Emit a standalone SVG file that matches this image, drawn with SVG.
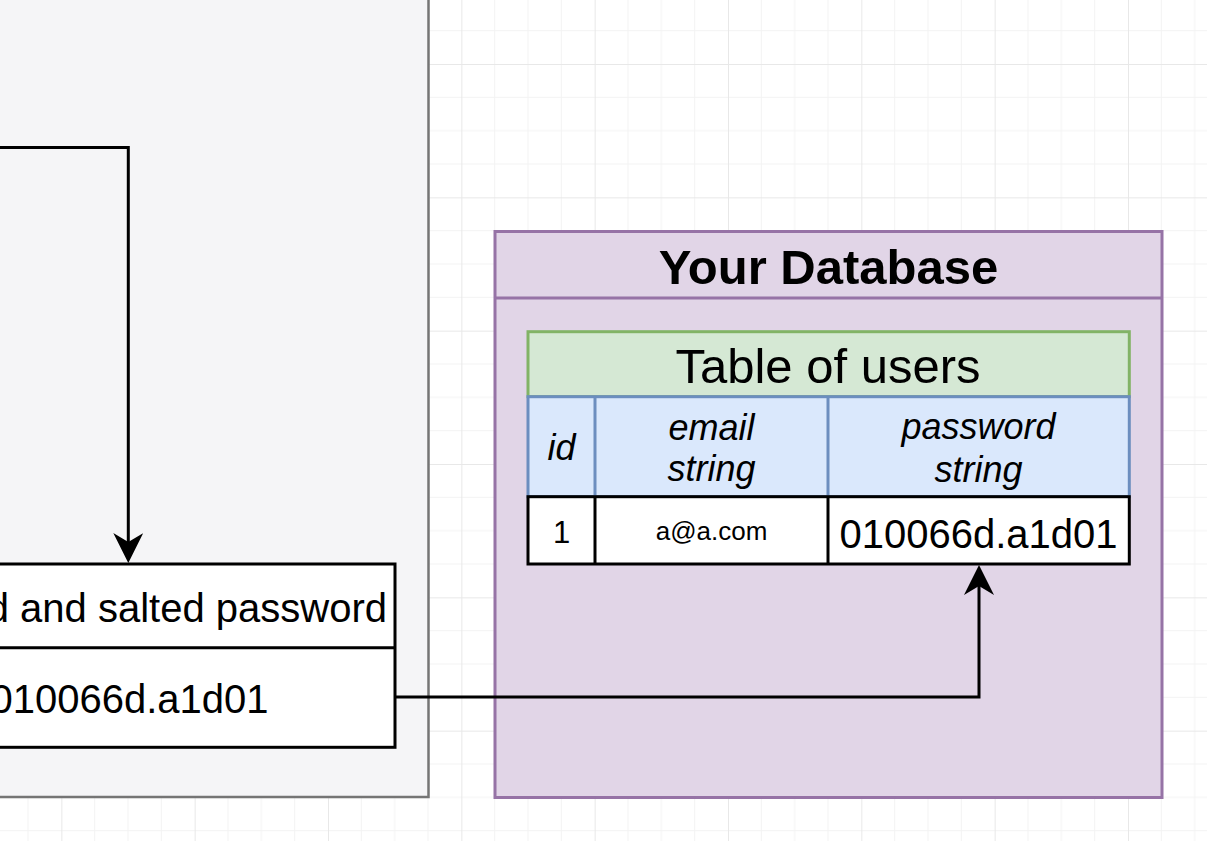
<svg xmlns="http://www.w3.org/2000/svg" width="1207" height="841" viewBox="0 0 1207 841">
  <defs>
    <pattern id="grid" patternUnits="userSpaceOnUse" x="61.333" y="64" width="133.333" height="133.333">
      <path d="M33.333,0V133.333M66.667,0V133.333M100,0V133.333M0,33.333H133.333M0,66.667H133.333M0,100H133.333" fill="none" stroke="#f3f3f3" stroke-width="1"/>
      <path d="M0.5,0V133.333M0,0.5H133.333" fill="none" stroke="#e8e8e8" stroke-width="1"/>
    </pattern>
    <marker id="arrow" viewBox="0 0 30 30" refX="9" refY="15" markerWidth="30" markerHeight="30" markerUnits="userSpaceOnUse" orient="auto">
      <path d="M0,0 L30,15 L0,30 L9,15 Z" fill="#000"/>
    </marker>
    <style>
      text { font-family: "Liberation Sans", Arial, Helvetica, sans-serif; fill: #000; }
      .mid { text-anchor: middle; }
      .blk { fill: #fff; stroke: #000; stroke-width: 3; }
      .conn { fill: none; stroke: #000; stroke-width: 3; marker-end: url(#arrow); }
      .hdr { font-size: 36px; font-style: italic; text-anchor: middle; }
      .cell { fill: #fff; stroke: #000; stroke-width: 3; }
    </style>
  </defs>

  <rect width="1207" height="841" fill="#ffffff"/>
  <rect width="1207" height="841" fill="url(#grid)"/>

  <g id="server-panel">
    <rect x="-10" y="-10" width="438.5" height="807" fill="#f5f5f7" stroke="#757575" stroke-width="2.5"/>
  </g>

  <g id="hashed-password-box">
    <rect class="blk" x="-17" y="564" width="412" height="183.3"/>
    <line x1="-17" y1="647.7" x2="395" y2="647.7" stroke="#000" stroke-width="3"/>
    <text x="387" y="622" font-size="40" text-anchor="end">d and salted password</text>
    <text x="268.6" y="712.5" font-size="40" text-anchor="end">010066d.a1d01</text>
  </g>

  <g id="your-database">
    <rect x="495" y="231.5" width="667" height="566" fill="#e1d5e7" stroke="#9673a6" stroke-width="3"/>
    <line x1="495" y1="298" x2="1162" y2="298" stroke="#9673a6" stroke-width="3"/>
    <text class="mid" x="828.5" y="283.5" font-size="49" font-weight="bold">Your Database</text>
  </g>

  <g id="table-of-users">
    <rect x="528" y="331.7" width="601.3" height="65" fill="#d5e8d4" stroke="#82b366" stroke-width="3"/>
    <text class="mid" x="828" y="383.3" font-size="49">Table of users</text>
    <rect x="528" y="396.7" width="601.3" height="100" fill="#dae8fc" stroke="#6c8ebf" stroke-width="3"/>
    <line x1="595" y1="396.7" x2="595" y2="496.7" stroke="#6c8ebf" stroke-width="3"/>
    <line x1="828" y1="396.7" x2="828" y2="496.7" stroke="#6c8ebf" stroke-width="3"/>
    <text class="hdr" x="561.5" y="460">id</text>
    <text class="hdr" x="711.5" y="440">email</text>
    <text class="hdr" x="711.5" y="481">string</text>
    <text class="hdr" x="978.5" y="438.5">password</text>
    <text class="hdr" x="978.5" y="481.5">string</text>
    <rect class="cell" x="528" y="496.7" width="601.3" height="67.3"/>
    <line x1="595" y1="496.7" x2="595" y2="564" stroke="#000" stroke-width="3"/>
    <line x1="828" y1="496.7" x2="828" y2="564" stroke="#000" stroke-width="3"/>
    <text class="mid" x="561.5" y="542.7" font-size="31">1</text>
    <text class="mid" x="711.5" y="540" font-size="26">a@a.com</text>
    <text class="mid" x="978.5" y="547.5" font-size="40">010066d.a1d01</text>
  </g>

  <g id="connectors">
    <path class="conn" d="M-10,147.5 H128.3 V542"/>
    <path class="conn" d="M395,697 H979 V586"/>
  </g>
</svg>
